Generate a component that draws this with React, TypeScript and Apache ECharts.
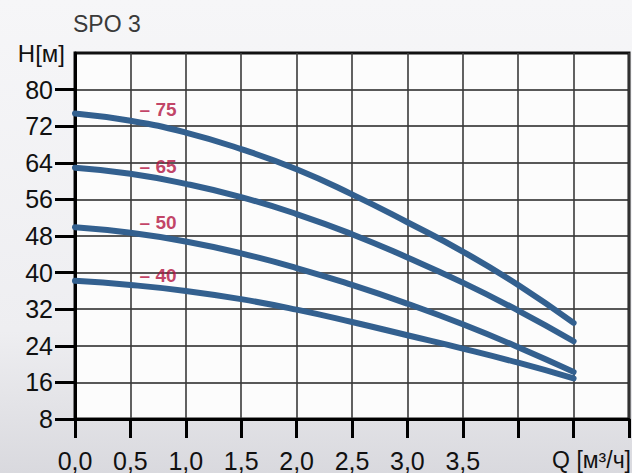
import React, { useEffect, useRef } from "react";
import * as echarts from "echarts";

// Flow Q [m³/h]
const Q = [0, 0.5, 1.0, 1.5, 2.0, 2.5, 3.0, 3.5, 4.0, 4.5];
// Head H [m] for each pump model
const H75 = [74.8, 73.2, 70.6, 67.0, 62.6, 57.1, 51.0, 44.6, 37.3, 29.0];
const H65 = [62.9, 61.6, 59.4, 56.5, 52.8, 48.4, 43.3, 37.8, 31.7, 25.0];
const H50 = [49.9, 48.7, 46.8, 44.2, 41.0, 37.3, 33.2, 28.7, 23.7, 18.3];
const H40 = [38.2, 37.3, 36.0, 34.2, 31.9, 29.2, 26.3, 23.4, 20.3, 16.9];

const MODEL_NAMES = ["– 75", "– 65", "– 50", "– 40"];
const SERIES = [H75, H65, H50, H40];

// label anchor points (data coordinates)
const LABEL_Q = [0.75, 0.75, 0.75, 0.75];
const LABEL_H = [75.7, 63.1, 51.0, 39.4];

const X_TICKS = [0, 0.5, 1.0, 1.5, 2.0, 2.5, 3.0, 3.5, 4.0, 4.5, 5.0];
const X_LABELS = ["0,0", "0,5", "1,0", "1,5", "2,0", "2,5", "3,0", "3,5", "", "", ""];
const Y_TICKS = [8, 16, 24, 32, 40, 48, 56, 64, 72, 80];

const TITLE = "SPO 3";
const Y_NAME = "H[м]";
const X_NAME = "Q [м³/ч]";

const CURVE_COLOR = "#33608f";
const LABEL_COLOR = "#b3123f";
const FONT = "'Liberation Sans', Arial, sans-serif";

export default function App() {
  const ref = useRef<HTMLDivElement>(null);

  useEffect(() => {
    if (!ref.current) return;
    const chart = echarts.init(ref.current, undefined, { renderer: "svg" });

    const lineSeries = SERIES.map((h, i) => ({
      type: "line",
      name: MODEL_NAMES[i],
      data: Q.map((q, j) => [q, h[j]]),
      smooth: 0.5,
      showSymbol: false,
      symbol: "none",
      silent: true,
      lineStyle: { color: CURVE_COLOR, width: 6, cap: "round", join: "round" },
      z: 5,
    }));

    const labelSeries = {
      type: "scatter",
      silent: true,
      symbolSize: 1,
      itemStyle: { color: "transparent" },
      data: MODEL_NAMES.map((n, i) => ({ name: n, value: [LABEL_Q[i], LABEL_H[i]] })),
      label: {
        show: true,
        position: "inside",
        formatter: (p: any) => p.name,
        color: LABEL_COLOR,
        fontFamily: FONT,
        fontWeight: "bold",
        fontSize: 19,
      },
      z: 6,
    };

    chart.setOption({
      animation: false,
      backgroundColor: {
        type: "linear",
        x: 0,
        y: 0,
        x2: 0,
        y2: 1,
        colorStops: [
          { offset: 0, color: "#f6f6f8" },
          { offset: 0.7, color: "#eeeef1" },
          { offset: 1, color: "#d9d9de" },
        ],
      },
      textStyle: { fontFamily: FONT },
      grid: {
        left: 75,
        right: 2,
        top: 53,
        bottom: 50,
        show: true,
        backgroundColor: "#fcfcfc",
        borderColor: "#111",
        borderWidth: 3,
      },
      graphic: [
        {
          type: "text",
          left: 73,
          top: 12,
          style: { text: TITLE, fontFamily: FONT, fontSize: 23, fill: "#3a3a3a" },
        },
        {
          type: "text",
          right: 1,
          top: 448,
          style: { text: X_NAME, fontFamily: FONT, fontSize: 23, fill: "#111" },
        },
      ],
      xAxis: {
        type: "value",
        min: 0,
        max: 5,
        interval: 0.5,
        axisLine: { lineStyle: { color: "#000", width: 3 } },
        axisTick: {
          show: true,
          length: 19,
          customValues: X_TICKS,
          lineStyle: { color: "#000", width: 3 },
        },
        axisLabel: {
          customValues: X_TICKS,
          margin: 29,
          fontSize: 25,
          color: "#111",
          fontFamily: FONT,
          formatter: (v: number) => {
            const i = X_TICKS.findIndex((t) => Math.abs(t - v) < 1e-6);
            return i >= 0 ? X_LABELS[i] : "";
          },
        },
        splitLine: { show: true, lineStyle: { color: "#3a3a3a", width: 1.6 } },
      },
      yAxis: {
        type: "value",
        min: 8,
        max: 88,
        interval: 8,
        name: Y_NAME,
        nameLocation: "end",
        nameGap: 0,
        nameTextStyle: {
          fontSize: 24,
          color: "#111",
          fontFamily: FONT,
          align: "right",
          verticalAlign: "middle",
          padding: [0, 10, 0, 0],
        },
        axisLine: { lineStyle: { color: "#000", width: 3 } },
        axisTick: {
          show: true,
          length: 20,
          customValues: Y_TICKS,
          lineStyle: { color: "#000", width: 3 },
        },
        axisLabel: {
          customValues: Y_TICKS,
          margin: 22,
          fontSize: 25,
          color: "#111",
          fontFamily: FONT,
        },
        splitLine: { show: true, lineStyle: { color: "#222", width: 1.6 } },
      },
      series: [...lineSeries, labelSeries],
    });

    return () => chart.dispose();
  }, []);

  return (
    <div
      ref={ref}
      style={{ position: "fixed", left: 0, top: 0, width: 632, height: 473 }}
    />
  );
}
